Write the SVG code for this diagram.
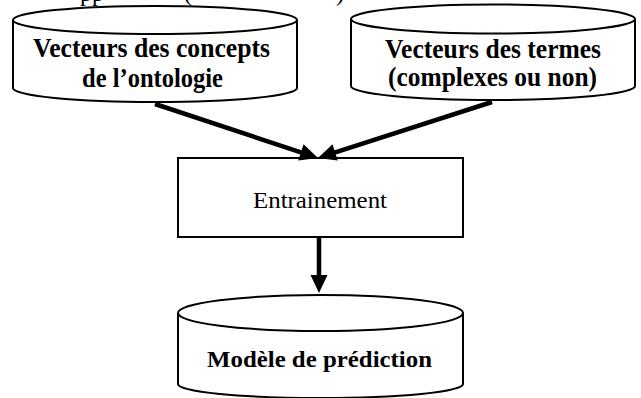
<svg xmlns="http://www.w3.org/2000/svg" width="641" height="398" viewBox="0 0 641 398">
<style>
.shape{fill:#fff;stroke:#000;stroke-width:2}
.lbl{font-family:"Liberation Serif","Times New Roman",serif;font-weight:bold;font-size:27px;fill:#000}
.reg{font-family:"Liberation Serif","Times New Roman",serif;font-size:24px;fill:#000}
.conn{stroke:#000;stroke-width:4.5;fill:none}
</style>
<defs>
<marker id="ah" markerUnits="userSpaceOnUse" markerWidth="20" markerHeight="18" refX="8" refY="8.5" orient="auto" overflow="visible">
<path d="M0,0 L18,8.5 L0,17 z" fill="#000"/>
</marker>
</defs>
<rect width="641" height="398" fill="#fff"/>
<g id="clipped-title">
<text class="reg" y="0.5"><tspan x="80">pp</tspan><tspan x="184">(</tspan><tspan x="336">)</tspan></text>
</g>
<g id="node-concepts">
<path class="shape" d="M13,20 L13,88 A142,14 0 0 0 297,88 L297,20"/>
<ellipse class="shape" cx="155" cy="20" rx="142" ry="14"/>
<text class="lbl" x="151.5" y="57" text-anchor="middle" textLength="237" lengthAdjust="spacingAndGlyphs">Vecteurs des concepts</text>
<text class="lbl" x="152.5" y="87" text-anchor="middle" textLength="141" lengthAdjust="spacingAndGlyphs">de l’ontologie</text>
</g>
<g id="node-termes">
<path class="shape" d="M351,19 L351,86 A142,14 0 0 0 635,86 L635,19"/>
<ellipse class="shape" cx="493" cy="19" rx="142" ry="14.5"/>
<text class="lbl" x="493" y="58" text-anchor="middle" textLength="216" lengthAdjust="spacingAndGlyphs">Vecteurs des termes</text>
<text class="lbl" x="492.5" y="86" text-anchor="middle" textLength="209" lengthAdjust="spacingAndGlyphs">(complexes ou non)</text>
</g>
<g id="node-entrainement">
<rect class="shape" x="178" y="158" width="285" height="79"/>
<text class="reg" x="320" y="208" text-anchor="middle" textLength="134" lengthAdjust="spacingAndGlyphs">Entrainement</text>
</g>
<g id="node-modele">
<path class="shape" d="M178,313 L178,384 A142.5,14 0 0 0 463,384 L463,313"/>
<ellipse class="shape" cx="320.5" cy="313" rx="142.5" ry="18"/>
<text class="lbl" x="319.5" y="367" style="font-size:24px" text-anchor="middle" textLength="225" lengthAdjust="spacingAndGlyphs">Modèle de prédiction</text>
</g>
<g id="connectors">
<line class="conn" x1="155" y1="104" x2="308.5" y2="154.9" marker-end="url(#ah)"/>
<line class="conn" x1="492" y1="102" x2="327.5" y2="154.9" marker-end="url(#ah)"/>
<line class="conn" x1="319" y1="237" x2="319" y2="283" marker-end="url(#ah)"/>
</g>
</svg>
